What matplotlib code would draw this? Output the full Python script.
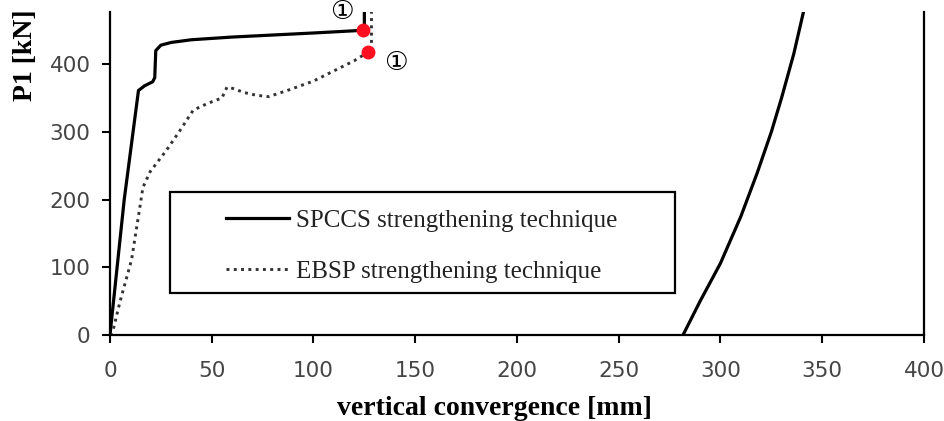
import matplotlib.pyplot as plt
from matplotlib.patches import Rectangle

# SPCCS strengthening technique (solid)
spccs_x = [0, 7, 14, 17, 21, 22, 22.5, 25, 30, 40, 60, 100, 124.5, 125, 125]
spccs_y = [0, 200, 361, 368, 374, 380, 420, 428, 432, 436, 440, 446, 450, 450, 520]
# second solid branch on the right
branch_x = [281.6, 290, 300, 310, 318, 325, 330, 336, 341]
branch_y = [0, 50, 106, 175, 239, 300, 350, 415, 480]

# EBSP strengthening technique (dotted)
ebsp_x = [0, 1.5, 5, 10.6, 14.7, 16.2, 19.7, 27.8, 34.4, 40.9, 48, 55, 57.5, 60.5, 66, 72, 78, 88, 100, 110, 120, 127, 128.5, 128.5]
ebsp_y = [0, 7, 50, 111, 189, 218, 241, 273, 302, 332, 342, 350, 366, 364, 358, 354, 352, 362, 375, 390, 405, 418, 418, 520]

# failure points
fail_x = [124.5, 127]
fail_y = [450, 418]

fig = plt.figure(figsize=(9.44, 4.21), dpi=100)
ax = fig.add_axes([0.1165, 0.2043, 0.8623, 0.7672])

ax.plot(spccs_x, spccs_y, color="black", lw=2.3, label="SPCCS strengthening technique")
ax.plot(ebsp_x, ebsp_y, color="#333333", lw=2.1, ls=(0, (1, 1.5)), label="EBSP strengthening technique")
ax.plot(branch_x, branch_y, color="black", lw=2.3)
ax.plot(fail_x, fail_y, "o", color="#ff1020", ms=9, zorder=5)

ax.text(140.5, 401, "①", fontsize=19, ha="center", va="center", family="DejaVu Sans")
ax.text(114, 477, "①", fontsize=19, ha="center", va="center", family="DejaVu Sans")

ax.set_xlim(0, 400)
ax.set_ylim(0, 477)
ax.set_xticks(range(0, 401, 50))
ax.set_yticks(range(0, 401, 100))
ax.spines["top"].set_visible(False)
for s in ["left", "right", "bottom"]:
    ax.spines[s].set_linewidth(1.6)
ax.tick_params(direction="out", length=6, width=1.5, labelsize=15.5, labelcolor="#454545")
ax.tick_params(axis="x", pad=13)
ax.tick_params(axis="y", pad=8)

ax.set_xlabel("vertical convergence [mm]", family="Liberation Serif", fontweight="bold", fontsize=20)
ax.set_ylabel("P1 [kN]", family="Liberation Serif", fontweight="bold", fontsize=20)
ax.xaxis.set_label_coords(0.472, -0.189)
ax.yaxis.set_label_coords(-0.088, 0.867)

# legend box
ax.add_patch(Rectangle((0.0737, 0.130), 0.6203, 0.313, transform=ax.transAxes,
                       fill=False, edgecolor="black", lw=1.6, zorder=4))
leg = ax.legend(loc="upper left", bbox_to_anchor=(0.1275, 0.4286), frameon=False,
                prop={"family": "Liberation Serif", "size": 18}, borderpad=0,
                handlelength=2.5, labelspacing=1.15, handletextpad=0.3)
for t in leg.get_texts():
    t.set_color("#222222")

fig.savefig("out.png", dpi=100)
